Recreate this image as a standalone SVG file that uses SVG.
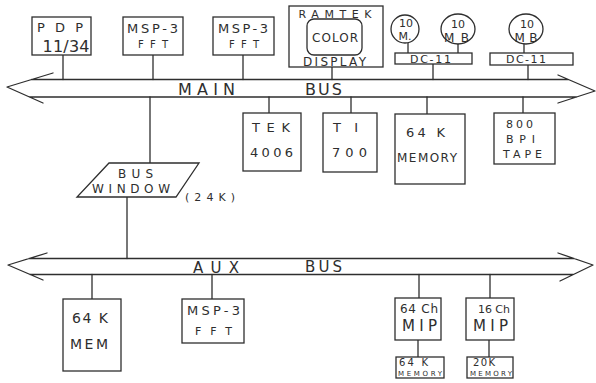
<svg xmlns="http://www.w3.org/2000/svg" width="596" height="383" viewBox="0 0 596 383">
<style>
  .s{fill:none;stroke:#2e2e2e;stroke-width:1.3;stroke-linecap:round;stroke-linejoin:round}
  .b{fill:#fff;stroke:#2e2e2e;stroke-width:1.3}
  text{font-family:"DejaVu Sans","Liberation Sans",sans-serif;fill:#2e2e2e;text-anchor:middle}
  .t16{font-size:16px}.t15{font-size:15px}.t14{font-size:14px}.t13{font-size:13px}.t12{font-size:12px}.t11{font-size:11px}.t10{font-size:10px}.t7{font-size:7px}
</style>
<rect width="596" height="383" fill="#fff"/>
<g id="connectors" class="s">
  <line x1="63" y1="55" x2="63" y2="79.5"/>
  <line x1="153" y1="55" x2="153" y2="79.5"/>
  <line x1="243" y1="55" x2="243" y2="79.5"/>
  <line x1="332" y1="67" x2="332" y2="79.5"/>
  <line x1="433" y1="64" x2="433" y2="79.5"/>
  <line x1="528" y1="65" x2="528" y2="79.5"/>
  <line x1="408" y1="43" x2="408" y2="53"/>
  <line x1="458" y1="44" x2="458" y2="53"/>
  <line x1="524" y1="44" x2="524" y2="53"/>
  <line x1="150" y1="97" x2="150" y2="163"/>
  <line x1="269" y1="97" x2="269" y2="113"/>
  <line x1="351" y1="97" x2="351" y2="113"/>
  <line x1="427" y1="97" x2="427" y2="114"/>
  <line x1="523" y1="97" x2="523" y2="113"/>
  <line x1="127" y1="197" x2="127" y2="258.5"/>
  <line x1="92" y1="274.5" x2="92" y2="299"/>
  <line x1="212" y1="274.5" x2="212" y2="299"/>
  <line x1="419" y1="274.5" x2="419" y2="298"/>
  <line x1="490" y1="274.5" x2="490" y2="298"/>
  <line x1="418" y1="340" x2="418" y2="357"/>
  <line x1="489" y1="340" x2="489" y2="357"/>
</g>
<g id="main-bus">
  <path class="s" d="M53,73 L7,87 L43,103 M31.6,79.5 L568,79.5 M29.5,97 L576.5,97 M558,75 L595,91 L558,103"/>
  <text class="t16" x="206.5" y="95" textLength="57" lengthAdjust="spacing">MAIN</text>
  <text class="t16" x="323.5" y="95" textLength="37" lengthAdjust="spacing">BUS</text>
</g>
<g id="aux-bus">
  <path class="s" d="M47,253 L8,265 L43,280 M29,258.5 L574,258.5 M30,274.5 L573,274.5 M558,253 L593,265 L560,281"/>
  <text class="t15" x="216" y="273" textLength="46" lengthAdjust="spacing">AUX</text>
  <text class="t15" x="323.5" y="272" textLength="37" lengthAdjust="spacing">BUS</text>
</g>
<g id="pdp">
  <rect class="b" x="32" y="17" width="59" height="38"/>
  <text class="t13" x="60" y="32" textLength="46" lengthAdjust="spacing">PDP</text>
  <text class="t16" x="66" y="52" textLength="47" lengthAdjust="spacing">11/34</text>
</g>
<g id="msp1">
  <rect class="b" x="123" y="17" width="60" height="38"/>
  <text class="t13" x="152.5" y="33" textLength="51" lengthAdjust="spacing">MSP-3</text>
  <text class="t10" x="153" y="48" textLength="30" lengthAdjust="spacing">FFT</text>
</g>
<g id="msp2">
  <rect class="b" x="213" y="17" width="61" height="38"/>
  <text class="t13" x="243" y="33" textLength="50" lengthAdjust="spacing">MSP-3</text>
  <text class="t10" x="244" y="48" textLength="30" lengthAdjust="spacing">FFT</text>
</g>
<g id="ramtek">
  <rect class="b" x="289" y="6" width="94" height="61"/>
  <rect class="b" x="307" y="19" width="55" height="36" rx="7"/>
  <text class="t11" x="335" y="18" textLength="73" lengthAdjust="spacing">RAMTEK</text>
  <text class="t12" x="335" y="42" textLength="46" lengthAdjust="spacing">COLOR</text>
  <text class="t12" x="334.5" y="66" textLength="63" lengthAdjust="spacing">DISPLAY</text>
</g>
<g id="disk1">
  <ellipse class="b" cx="405" cy="29" rx="14" ry="14"/>
  <text class="t11" x="406" y="27">10</text>
  <text class="t11" x="405" y="40">M.</text>
</g>
<g id="disk2">
  <ellipse class="b" cx="458" cy="29" rx="17" ry="15"/>
  <text class="t11" x="458" y="28">10</text>
  <text class="t12" x="456.5" y="42" textLength="25" lengthAdjust="spacing">MB</text>
</g>
<g id="disk3">
  <ellipse class="b" cx="526" cy="29" rx="17" ry="15"/>
  <text class="t11" x="527" y="28">10</text>
  <text class="t12" x="526" y="42" textLength="23" lengthAdjust="spacing">MB</text>
</g>
<g id="dc11a">
  <rect class="b" x="395" y="53" width="77" height="11"/>
  <text class="t11" x="430.5" y="63" textLength="41" lengthAdjust="spacing">DC-11</text>
</g>
<g id="dc11b">
  <rect class="b" x="490" y="53" width="83" height="12"/>
  <text class="t11" x="526" y="63" textLength="40" lengthAdjust="spacing">DC-11</text>
</g>
<g id="tek">
  <rect class="b" x="243" y="113" width="58" height="58"/>
  <text class="t13" x="271" y="132" textLength="38" lengthAdjust="spacing">TEK</text>
  <text class="t13" x="271.5" y="157" textLength="43" lengthAdjust="spacing">4006</text>
</g>
<g id="ti">
  <rect class="b" x="323" y="113" width="54" height="59"/>
  <text class="t13" x="345.5" y="132" textLength="25" lengthAdjust="spacing">TI</text>
  <text class="t13" x="349.5" y="157" textLength="35" lengthAdjust="spacing">700</text>
</g>
<g id="memory64k">
  <rect class="b" x="395" y="114" width="70" height="70"/>
  <text class="t13" x="425.5" y="137" textLength="39" lengthAdjust="spacing">64 K</text>
  <text class="t12" x="427" y="162" textLength="60" lengthAdjust="spacing">MEMORY</text>
</g>
<g id="tape">
  <rect class="b" x="494" y="113" width="61" height="51"/>
  <text class="t11" x="519.5" y="128" textLength="27" lengthAdjust="spacing">800</text>
  <text class="t11" x="520.5" y="143" textLength="29" lengthAdjust="spacing">BPI</text>
  <text class="t11" x="522.5" y="158" textLength="39" lengthAdjust="spacing">TAPE</text>
</g>
<g id="bus-window">
  <polygon class="b" points="109,163 199,163 176,197 77,197"/>
  <text class="t12" x="135.5" y="178" textLength="35" lengthAdjust="spacing">BUS</text>
  <text class="t12" x="131" y="193" textLength="78" lengthAdjust="spacing">WINDOW</text>
  <text class="t11" x="210" y="201" textLength="50" lengthAdjust="spacing">(24K)</text>
</g>
<g id="mem-aux">
  <rect class="b" x="63" y="299" width="58" height="72"/>
  <text class="t14" x="90" y="323" textLength="36" lengthAdjust="spacing">64 K</text>
  <text class="t14" x="89" y="349" textLength="38" lengthAdjust="spacing">MEM</text>
</g>
<g id="msp-aux">
  <rect class="b" x="182" y="299" width="62" height="44"/>
  <text class="t13" x="213.5" y="315" textLength="53" lengthAdjust="spacing">MSP-3</text>
  <text class="t11" x="213.5" y="335" textLength="37" lengthAdjust="spacing">FFT</text>
</g>
<g id="mip64">
  <rect class="b" x="395" y="298" width="46" height="42"/>
  <text class="t12" x="419" y="313" textLength="38" lengthAdjust="spacing">64 Ch</text>
  <text class="t15" x="419.5" y="331" textLength="35" lengthAdjust="spacing">MIP</text>
</g>
<g id="mip16">
  <rect class="b" x="466" y="298" width="48" height="42"/>
  <text class="t11" x="494" y="313" textLength="32" lengthAdjust="spacing">16 Ch</text>
  <text class="t15" x="490.5" y="331" textLength="35" lengthAdjust="spacing">MIP</text>
</g>
<g id="mip64-mem">
  <rect class="b" x="396" y="357" width="48" height="21"/>
  <text class="t10" x="413.5" y="366" textLength="29" lengthAdjust="spacing">64 K</text>
  <text class="t7" x="420" y="376" textLength="44" lengthAdjust="spacing">MEMORY</text>
</g>
<g id="mip16-mem">
  <rect class="b" x="467" y="357" width="46" height="21"/>
  <text class="t10" x="484" y="366" textLength="22" lengthAdjust="spacing">20K</text>
  <text class="t7" x="491" y="376" textLength="42" lengthAdjust="spacing">MEMORY</text>
</g>
</svg>
